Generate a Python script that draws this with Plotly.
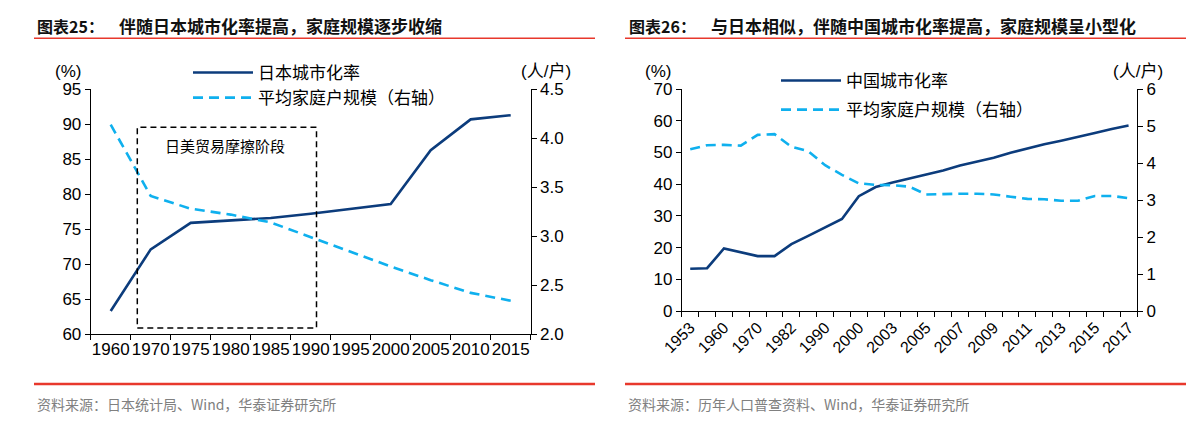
import plotly.graph_objects as go

# ---------------- data ----------------
jp_years = ["1960", "1970", "1975", "1980", "1985", "1990", "1995", "2000", "2005", "2010", "2015"]
jp_urban = [63.3, 72.1, 75.9, 76.2, 76.6, 77.2, 77.9, 78.6, 86.3, 90.7, 91.3]
jp_household = [4.14, 3.41, 3.28, 3.22, 3.14, 2.99, 2.84, 2.69, 2.55, 2.42, 2.34]

cn_years = ["1953", "1955", "1960", "1964", "1970", "1975", "1982", "1985", "1990", "1995",
            "2000", "2002", "2003", "2004", "2005", "2006", "2007", "2008", "2009", "2010",
            "2011", "2012", "2013", "2014", "2015", "2016", "2017"]
cn_urban = [13.3, 13.5, 19.7, 18.4, 17.3, 17.3, 21.1, 23.7, 26.4, 29.0,
            36.2, 39.1, 40.5, 41.8, 43.0, 44.3, 45.9, 47.0, 48.3, 49.9,
            51.3, 52.6, 53.7, 54.8, 56.1, 57.4, 58.5]
cn_household = [4.37, 4.48, 4.49, 4.47, 4.76, 4.78, 4.44, 4.32, 3.94, 3.68,
                3.45, 3.41, 3.40, 3.36, 3.15, 3.17, 3.17, 3.17, 3.15, 3.09,
                3.03, 3.02, 2.98, 2.98, 3.11, 3.11, 3.05]
cn_ticktext = [y if i % 2 == 0 else "" for i, y in enumerate(cn_years)]

box_x = [0.665, 5.145]
box_y = [60.86, 89.57]
box_label = "日美贸易摩擦阶段"

# ---------------- styles ----------------
W, H = 1201, 429
NAVY = "#0c3c7c"
SKY = "#0fb0ee"
RED = "#e8382c"
NUM_FONT = dict(family="Liberation Sans, Arial, sans-serif", size=17, color="black")
CJK = "Noto Sans CJK SC"


def px(x):
    return x / W


def py(y):
    return 1 - y / H


fig = go.Figure()

fig.add_trace(go.Scatter(x=jp_years, y=jp_urban, mode="lines", name="日本城市化率",
                         line=dict(color=NAVY, width=2.6), xaxis="x", yaxis="y",
                         legend="legend", legendgroup="a"))
fig.add_trace(go.Scatter(x=jp_years, y=jp_household, mode="lines", name="平均家庭户规模（右轴）",
                         line=dict(color=SKY, width=2.6, dash="10px,6px"), xaxis="x", yaxis="y2",
                         legend="legend", legendgroup="b"))
fig.add_trace(go.Scatter(x=cn_years, y=cn_urban, mode="lines", name="中国城市化率",
                         line=dict(color=NAVY, width=2.6), xaxis="x2", yaxis="y3",
                         legend="legend2", legendgroup="c"))
fig.add_trace(go.Scatter(x=cn_years, y=cn_household, mode="lines", name="平均家庭户规模（右轴）",
                         line=dict(color=SKY, width=2.6, dash="10px,6px"), xaxis="x2", yaxis="y4",
                         legend="legend2", legendgroup="d"))

axis_common = dict(showline=True, linecolor="black", linewidth=1, ticks="outside",
                   ticklen=5, tickcolor="black", tickwidth=1, showgrid=False,
                   zeroline=False, automargin=False)

fig.update_layout(
    width=W, height=H, margin=dict(l=0, r=0, t=0, b=0, autoexpand=False),
    paper_bgcolor="white", plot_bgcolor="white",
    xaxis=dict(domain=[px(90.7), px(530.7)], anchor="y", type="category",
               range=[-0.5, len(jp_years) - 0.5], tickson="boundaries", tickangle=0,
               tickfont=NUM_FONT, **axis_common),
    yaxis=dict(domain=[py(334), py(89.3)], anchor="x", range=[60, 95], dtick=5,
               tick0=60, tickfont=NUM_FONT, **axis_common),
    yaxis2=dict(overlaying="y", side="right", anchor="x", range=[2.0, 4.5], dtick=0.5,
                tick0=2.0, tickformat=".1f", tickfont=NUM_FONT, **axis_common),
    xaxis2=dict(domain=[px(681.8), px(1137)], anchor="y3", type="category",
                range=[-0.5, len(cn_years) - 0.5], tickson="boundaries",
                tickmode="array", tickvals=cn_years, ticktext=cn_ticktext, tickangle=-45,
                tickfont=dict(family="Liberation Sans, Arial, sans-serif", size=16, color="black"),
                **axis_common),
    yaxis3=dict(domain=[py(311), py(89)], anchor="x2", range=[0, 70], dtick=10,
                tick0=0, tickfont=NUM_FONT, **axis_common),
    yaxis4=dict(overlaying="y3", side="right", anchor="x2", range=[0, 6], dtick=1,
                tick0=0, tickfont=NUM_FONT, **axis_common),
    legend=dict(x=px(188), y=py(55), xanchor="left", yanchor="top",
                font=dict(family=CJK, size=17, color="black"), bgcolor="rgba(0,0,0,0)",
                itemwidth=60, tracegroupgap=0),
    legend2=dict(x=px(776), y=py(63), xanchor="left", yanchor="top",
                 font=dict(family=CJK, size=17, color="black"), bgcolor="rgba(0,0,0,0)",
                 itemwidth=60, tracegroupgap=4),
)

# dashed box for trade friction period
fig.add_shape(type="rect", xref="x", yref="y", x0=box_x[0], x1=box_x[1], y0=box_y[0], y1=box_y[1],
              line=dict(color="black", width=1.5, dash="6px,4px"), fillcolor="rgba(0,0,0,0)")
fig.add_annotation(x=(box_x[0] + box_x[1]) / 2 - 0.06, y=87.0, xref="x", yref="y", text=box_label,
                   showarrow=False, font=dict(family=CJK, size=15, color="black"))

# header / footer lines
for (x0, x1) in [(34, 595), (625, 1186)]:
    fig.add_shape(type="line", xref="paper", yref="paper", x0=px(x0), x1=px(x1),
                  y0=py(38.3), y1=py(38.3), line=dict(color=RED, width=1.5))
    fig.add_shape(type="line", xref="paper", yref="paper", x0=px(x0), x1=px(x1),
                  y0=py(384), y1=py(384), line=dict(color=RED, width=2.5))

titles = [(35, "<b>图表25：</b>", 117, "<b>伴随日本城市化率提高，家庭规模逐步收缩</b>"),
          (627, "<b>图表26：</b>", 709, "<b>与日本相似，伴随中国城市化率提高，家庭规模呈小型化</b>")]
for x0, t0, x1, t1 in titles:
    fig.add_annotation(x=px(x0), y=py(25.5), xref="paper", yref="paper", xanchor="left",
                       yanchor="middle", text=t0, showarrow=False,
                       font=dict(family=CJK, size=16, color="#111111"))
    fig.add_annotation(x=px(x1), y=py(25.5), xref="paper", yref="paper", xanchor="left",
                       yanchor="middle", text=t1, showarrow=False,
                       font=dict(family=CJK, size=17, color="#111111"))

footers = [(35, "资料来源：日本统计局、Wind，华泰证券研究所"),
           (626, "资料来源：历年人口普查资料、Wind，华泰证券研究所")]
for x0, t in footers:
    fig.add_annotation(x=px(x0), y=py(404), xref="paper", yref="paper", xanchor="left",
                       yanchor="middle", text=t, showarrow=False,
                       font=dict(family=CJK, size=14, color="#808080"))

units = [(67.5, "(%)"), (546, "(人/户)"), (658, "(%)"), (1138, "(人/户)")]
for x0, t in units:
    fig.add_annotation(x=px(x0), y=py(71.5), xref="paper", yref="paper", xanchor="center",
                       yanchor="middle", text=t, showarrow=False,
                       font=dict(family="Liberation Sans, Arial, " + CJK, size=17, color="black"))

fig.write_html("out.html")
